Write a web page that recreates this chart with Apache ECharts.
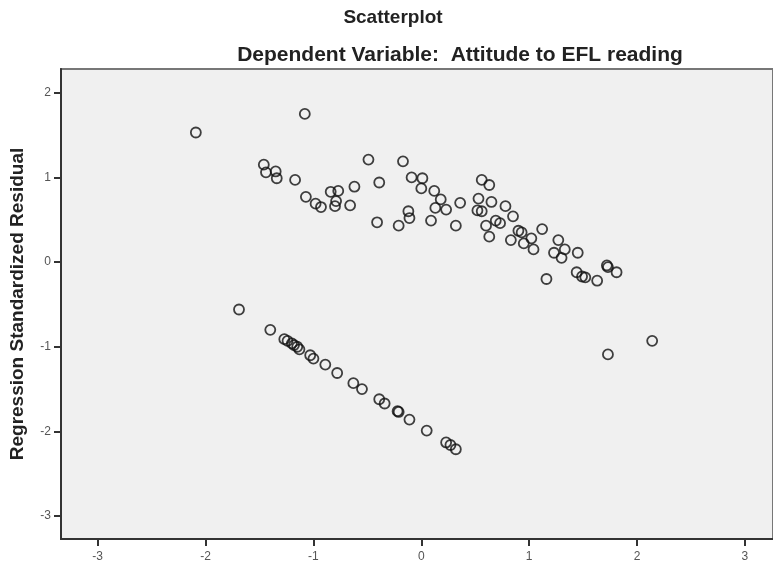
<!DOCTYPE html>
<html>
<head>
<meta charset="utf-8">
<script src="https://cdn.jsdelivr.net/npm/echarts@6/dist/echarts.min.js"></script>
<style>
    html, body { margin: 0; padding: 0; background: #fff; }
    #chart { width: 773px; height: 571px; }
</style>
</head>
<body>
<div id="chart"></div>
<script>
// predicted values (x) and residuals (y)
var upperX = [-2.09, -1.08, -1.46, -1.44, -1.35, -1.34, -1.17, -1.07, -0.98, -0.93,
    -0.84, -0.77, -0.79, -0.80, -0.66, -0.62, -0.49, -0.39, -0.41, -0.21,
    -0.17, -0.09, 0.01, 0.00, -0.12, -0.11, 0.12, 0.18, 0.13, 0.23,
    0.09, 0.32, 0.36, 0.53, 0.52, 0.56, 0.63, 0.56, 0.65, 0.60,
    0.63, 0.69, 0.73, 0.78, 0.85, 0.83, 0.90, 0.93, 0.95, 1.02,
    1.04, 1.12, 1.16, 1.27, 1.33, 1.23, 1.30, 1.45, 1.44, 1.49,
    1.52, 1.63, 1.72, 1.73, 1.81];
var upperY = [1.53, 1.75, 1.15, 1.06, 1.07, 0.99, 0.97, 0.77, 0.69, 0.65,
    0.83, 0.84, 0.72, 0.66, 0.67, 0.89, 1.21, 0.94, 0.47, 0.43,
    1.19, 1.00, 0.99, 0.87, 0.60, 0.52, 0.84, 0.74, 0.64, 0.62,
    0.49, 0.43, 0.70, 0.75, 0.61, 0.97, 0.91, 0.60, 0.71, 0.43,
    0.30, 0.49, 0.46, 0.66, 0.54, 0.26, 0.37, 0.35, 0.22, 0.28,
    0.15, 0.39, -0.20, 0.26, 0.15, 0.11, 0.05, 0.11, -0.12, -0.17,
    -0.18, -0.22, -0.04, -0.06, -0.12];

var lowerX = [-1.69, -1.40, -1.27, -1.24, -1.20, -1.18, -1.15, -1.13, -1.03, -1.00,
    -0.89, -0.78, -0.63, -0.55, -0.39, -0.34, -0.22, -0.21, -0.11, 0.05,
    0.23, 0.27, 0.32];
var lowerY = [-0.56, -0.80, -0.91, -0.93, -0.96, -0.98, -1.00, -1.03, -1.10, -1.14,
    -1.21, -1.31, -1.43, -1.50, -1.62, -1.67, -1.76, -1.77, -1.86, -1.99,
    -2.13, -2.16, -2.21];

var outlierX = [1.73, 2.14];
var outlierY = [-1.09, -0.93];

var tickValues = [-3, -2, -1, 0, 1, 2, 3];

function pairs(xs, ys) {
    return xs.map(function (x, i) { return [x, ys[i]]; });
}

var points = pairs(upperX, upperY).concat(pairs(lowerX, lowerY), pairs(outlierX, outlierY));

var labelStyle = {
    color: '#555',
    fontSize: 12,
    fontFamily: 'Liberation Sans, Arial, sans-serif'
};

var option = {
    animation: false,
    backgroundColor: '#fff',
    title: [
        {
            text: 'Scatterplot',
            left: 388,
            top: 3,
            textAlign: 'center',
            textStyle: { fontSize: 19, fontWeight: 'bold', color: '#222', fontFamily: 'Liberation Sans Narrow, Arial Narrow, Liberation Sans, sans-serif' }
        },
        {
            text: 'Dependent Variable:  Attitude to EFL reading',
            left: 455,
            top: 40,
            textAlign: 'center',
            textStyle: { fontSize: 21, fontWeight: 'bold', color: '#222', fontFamily: 'Liberation Sans Narrow, Arial Narrow, Liberation Sans, sans-serif' }
        }
    ],
    grid: {
        left: 61,
        top: 69,
        right: 0,
        bottom: 32,
        show: true,
        backgroundColor: '#f0f0f0',
        borderColor: '#777',
        borderWidth: 2
    },
    xAxis: {
        type: 'value',
        min: -3.34,
        max: 3.26,
        splitLine: { show: false },
        axisLine: { onZero: false, lineStyle: { color: '#333', width: 2 } },
        axisTick: { customValues: tickValues, length: 7, lineStyle: { color: '#333', width: 2 } },
        axisLabel: Object.assign({ customValues: tickValues, margin: 12 }, labelStyle)
    },
    yAxis: {
        type: 'value',
        min: -3.27,
        max: 2.28,
        name: 'Regression Standardized Residual',
        nameLocation: 'middle',
        nameGap: 34,
        nameTextStyle: { fontSize: 19, fontWeight: 'bold', color: '#222', fontFamily: 'Liberation Sans, Arial, sans-serif' },
        splitLine: { show: false },
        axisLine: { onZero: false, lineStyle: { color: '#333', width: 2 } },
        axisTick: { customValues: tickValues, length: 7, lineStyle: { color: '#333', width: 2 } },
        axisLabel: Object.assign({ customValues: tickValues, margin: 10 }, labelStyle)
    },
    series: [
        {
            type: 'scatter',
            symbol: 'circle',
            symbolSize: 10,
            data: points,
            itemStyle: {
                color: 'rgba(0,0,0,0)',
                borderColor: '#111',
                borderWidth: 1.8
            }
        }
    ]
};

echarts.init(document.getElementById('chart')).setOption(option);
</script>
</body>
</html>
